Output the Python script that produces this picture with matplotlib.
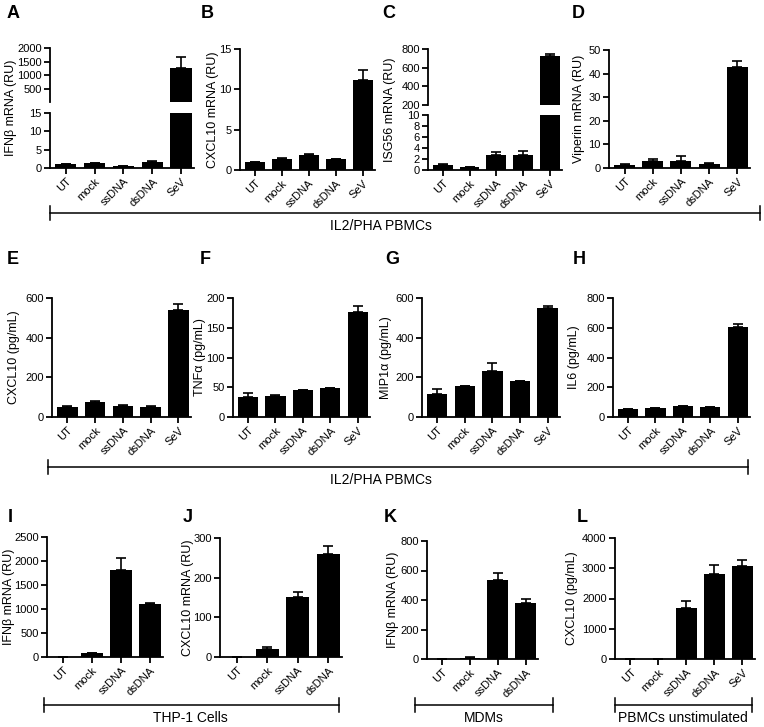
import matplotlib
matplotlib.use("Agg")
import matplotlib.pyplot as plt
import numpy as np

plt.rcParams['font.family'] = ['Liberation Sans', 'DejaVu Sans']

# ---------------------------- дані ------------------------------
cats5 = ['UT', 'mock', 'ssDNA', 'dsDNA', 'SeV']
cats4 = ['UT', 'mock', 'ssDNA', 'dsDNA']

ifnb_pbmc = [1.0, 1.3, 0.6, 1.6, 1250]
ifnb_pbmc_err = [0.1, 0.1, 0.05, 0.3, 430]
cxcl10_pbmc = [1.0, 1.4, 1.9, 1.35, 11.1]
cxcl10_pbmc_err = [0.05, 0.05, 0.1, 0.05, 1.3]
isg56_pbmc = [1.0, 0.5, 2.7, 2.7, 720]
isg56_pbmc_err = [0.05, 0.1, 0.5, 0.7, 30]
viperin_pbmc = [1.4, 3.0, 3.0, 1.8, 43]
viperin_pbmc_err = [0.5, 1.0, 2.0, 0.3, 2.5]

cxcl10_prot = [50, 75, 57, 52, 540]
cxcl10_prot_err = [3, 5, 3, 3, 30]
tnfa_prot = [33, 36, 45, 48, 176]
tnfa_prot_err = [7, 0.5, 1, 0.5, 11]
mip1a_prot = [118, 155, 230, 180, 548]
mip1a_prot_err = [25, 3, 42, 1, 10]
il6_prot = [55, 60, 72, 68, 602]
il6_prot_err = [2, 1, 3, 2, 25]

ifnb_thp1 = [5, 75, 1810, 1110]
ifnb_thp1_err = [1, 10, 250, 20]
cxcl10_thp1 = [1, 19, 152, 259]
cxcl10_thp1_err = [0.2, 7, 13, 20]
ifnb_mdm = [2, 8, 535, 378]
ifnb_mdm_err = [0.5, 4, 45, 27]
cxcl10_unstim = [0, 0, 1680, 2810, 3080]
cxcl10_unstim_err = [0, 0, 230, 300, 180]

W, H = 764, 727
fig = plt.figure(figsize=(W / 100, H / 100), dpi=100)

LW = 1.3
FS = 8


def box(x0, y0, x1, y1):
    # пікселі -> частки фігури
    return [x0 / W, 1 - y1 / H, (x1 - x0) / W, (y1 - y0) / H]


def style(ax, cats, xlabels=True):
    ax.spines['top'].set_visible(False)
    ax.spines['right'].set_visible(False)
    ax.spines['left'].set_linewidth(LW)
    ax.spines['bottom'].set_linewidth(LW)
    ax.tick_params(width=LW, length=4, labelsize=FS, pad=2)
    ax.set_xlim(-0.55, len(cats) - 0.55)
    ax.set_xticks(range(len(cats)))
    if xlabels:
        ax.set_xticklabels(cats, rotation=45, ha='right', rotation_mode='anchor', fontsize=FS)
    else:
        ax.set_xticks([])
        ax.spines['bottom'].set_visible(False)


def bars(ax, cats, vals, errs, floor=None):
    x = np.arange(len(cats))
    vals = np.asarray(vals, dtype=float)
    ax.bar(x, vals, width=0.74, color='black', linewidth=0, zorder=2)
    ev = vals if floor is None else np.where(vals > floor, vals, np.nan)
    ax.errorbar(x, ev, yerr=[np.zeros(len(errs)), errs], fmt='none',
                ecolor='black', elinewidth=1.2, capsize=3.5, capthick=1.2, zorder=1)


def ylab(text, x, top, bottom):
    fig.text(x / W, 1 - (top + bottom) / 2 / H, text, rotation=90,
             ha='center', va='center', fontsize=FS + 1)


def panel(rect, cats, vals, errs, ylim, yticks, ylabel, lab_x):
    ax = fig.add_axes(box(*rect))
    bars(ax, cats, vals, errs)
    style(ax, cats)
    ax.set_ylim(*ylim)
    ax.set_yticks(yticks)
    ylab(ylabel, lab_x, rect[1], rect[3])
    return ax


def broken(x0, x1, top, mid1, mid2, bottom, cats, vals, errs, up_lim, up_ticks,
           lo_lim, lo_ticks, ylabel, lab_x):
    up = fig.add_axes(box(x0, top, x1, mid1))
    lo = fig.add_axes(box(x0, mid2, x1, bottom))
    bars(up, cats, vals, errs, floor=up_lim[0])
    bars(lo, cats, vals, errs)
    style(up, cats, xlabels=False)
    style(lo, cats)
    up.set_ylim(*up_lim)
    up.set_yticks(up_ticks)
    lo.set_ylim(*lo_lim)
    lo.set_yticks(lo_ticks)
    ylab(ylabel, lab_x, top, bottom)


# ---------------------------- ряд 1 ------------------------------
broken(50, 194, 48, 102, 113, 168, cats5, ifnb_pbmc, ifnb_pbmc_err,
       (20, 2000), [500, 1000, 1500, 2000], (0, 15), [0, 5, 10, 15],
       'IFNβ mRNA (RU)', 11)
panel((240, 49, 375, 170), cats5, cxcl10_pbmc, cxcl10_pbmc_err, (0, 15), [0, 5, 10, 15],
      'CXCL10 mRNA (RU)', 213)
broken(428, 562, 49, 105, 115, 170, cats5, isg56_pbmc, isg56_pbmc_err,
       (200, 800), [200, 400, 600, 800], (0, 10), [0, 2, 4, 6, 8, 10],
       'ISG56 mRNA (RU)', 390)
panel((609, 50, 750, 168), cats5, viperin_pbmc, viperin_pbmc_err, (0, 50),
      [0, 10, 20, 30, 40, 50], 'Viperin mRNA (RU)', 579)

# ---------------------------- ряд 2 ------------------------------
panel((52, 298, 191, 417), cats5, cxcl10_prot, cxcl10_prot_err, (0, 600),
      [0, 200, 400, 600], 'CXCL10 (pg/mL)', 14)
panel((233, 298, 370, 417), cats5, tnfa_prot, tnfa_prot_err, (0, 200),
      [0, 50, 100, 150, 200], 'TNFα (pg/mL)', 200)
panel((422, 298, 560, 417), cats5, mip1a_prot, mip1a_prot_err, (0, 600),
      [0, 200, 400, 600], 'MIP1α (pg/mL)', 386)
panel((613, 298, 750, 417), cats5, il6_prot, il6_prot_err, (0, 800),
      [0, 200, 400, 600, 800], 'IL6 (pg/mL)', 574)

# ---------------------------- ряд 3 ------------------------------
panel((47, 537, 163, 657), cats4, ifnb_thp1, ifnb_thp1_err, (0, 2500),
      [0, 500, 1000, 1500, 2000, 2500], 'IFNβ mRNA (RU)', 9)
panel((220, 538, 342, 657), cats4, cxcl10_thp1, cxcl10_thp1_err, (0, 300),
      [0, 100, 200, 300], 'CXCL10 mRNA (RU)', 188)
panel((427, 541, 538, 659), cats4, ifnb_mdm, ifnb_mdm_err, (0, 800),
      [0, 200, 400, 600, 800], 'IFNβ mRNA (RU)', 393)
panel((615, 538, 755, 659), cats5, cxcl10_unstim, cxcl10_unstim_err, (0, 4000),
      [0, 1000, 2000, 3000, 4000], 'CXCL10 (pg/mL)', 572)

# ---------------------- підписи та дужки ------------------------
ov = fig.add_axes([0, 0, 1, 1], zorder=-1)
ov.set_xlim(0, W)
ov.set_ylim(H, 0)
ov.axis('off')

panel_labels = [('A', 13, 14), ('B', 207, 14), ('C', 389, 14), ('D', 578, 14),
                ('E', 13, 260), ('F', 205, 260), ('G', 392, 260), ('H', 579, 260),
                ('I', 10, 517), ('J', 188, 517), ('K', 390, 517), ('L', 582, 517)]
for t, x, y in panel_labels:
    ov.text(x, y, t, fontsize=13, fontweight='bold', ha='center', va='center')

groups = [(50, 760, 213, 'IL2/PHA PBMCs', 381),
          (48, 748, 467, 'IL2/PHA PBMCs', 381),
          (44, 339, 705, 'THP-1 Cells', 190),
          (415, 553, 705, 'MDMs', 484),
          (615, 752, 705, 'PBMCs unstimulated', 683)]
for x0, x1, y, name, xc in groups:
    ov.plot([x0, x1], [y, y], color='black', lw=1.1)
    ov.plot([x0, x0], [y - 7, y + 7], color='black', lw=1.1)
    ov.plot([x1, x1], [y - 7, y + 7], color='black', lw=1.1)
    ov.text(xc, y + 13, name, fontsize=FS + 2, ha='center', va='center')

fig.savefig('out.png', dpi=100)
